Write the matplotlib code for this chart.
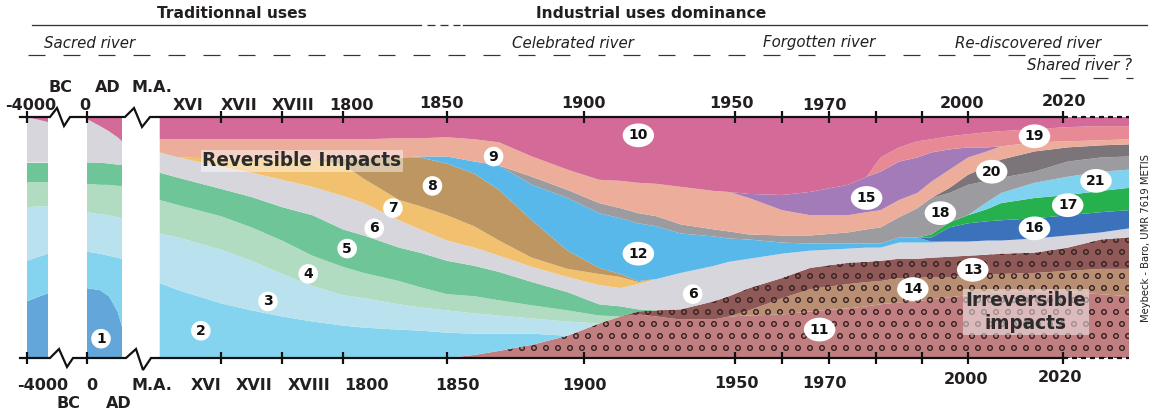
import matplotlib.pyplot as plt
import numpy as np

plt.rcParams["font.family"] = ["DejaVu Sans"]
plt.rcParams["hatch.color"] = "#3a2424"
plt.rcParams["hatch.linewidth"] = 0.9
plt.rcParams["lines.scale_dashes"] = False

# broken / stretched time axis: year -> horizontal position in the figure
YEAR_ANCHORS = [-4000, -3000, 0, 800, 1500, 1600, 1700, 1800, 1850, 1900,
                1950, 1960, 1970, 1980, 1990, 2000, 2020, 2034]
POS_ANCHORS = [27, 48, 87, 122, 160, 221, 282, 343, 447, 584,
               735, 782, 829, 876, 922, 968, 1063, 1129]

TICK_YEARS = [-4000, 0, 1600, 1700, 1800, 1850, 1900, 1950, 1960, 1970,
              1980, 1990, 2000, 2020]

top_labels = ["-4000", "0", "XVI", "XVII", "XVIII", "1800", "1850", "1900",
              "1950", "1970", "2000", "2020"]
top_eras = ["BC", "AD", "M.A."]
bottom_labels = ["-4000", "0", "M.A.", "XVI", "XVII", "XVIII", "1800", "1850",
                 "1900", "1950", "1970", "2000", "2020"]
bottom_eras = ["BC", "AD"]
periods = ["Traditionnal uses", "Industrial uses dominance"]
river_status = ["Sacred river", "Celebrated river", "Forgotten river",
                "Re-discovered river", "Shared river ?"]

# relative thickness of each impact layer (column totals = 100 %)
# -4000 .. BC strip
early_years = [-4000, -3000]
early_1 = [56, 64]
early_2 = [40, 39]
early_3 = [53, 47]
early_4 = [25, 24]
early_5 = [19, 19]
early_6 = [45, 40]
early_10 = [0, 5]

# AD strip
ad_years = [0, 300, 500, 700, 800]
ad_1 = [69, 67, 61, 46, 31]
ad_2 = [36, 36, 40, 53, 67]
ad_3 = [39, 39, 40, 40, 40]
ad_4 = [28, 29, 30, 31, 32]
ad_5 = [21, 22, 21, 21, 21]
ad_6 = [43, 36, 32, 27, 23]
ad_10 = [2, 9, 14, 20, 24]

# XVI century -> 2030s
main_years = [1495, 1530, 1600, 1650, 1700, 1750, 1800, 1810, 1827, 1837,
              1850, 1860, 1869, 1881, 1894, 1905, 1912, 1918, 1924, 1932,
              1943, 1948, 1953, 1960, 1966, 1974, 1978, 1981, 1985, 1989,
              1992, 1996, 2000, 2004, 2007, 2014, 2021, 2028, 2034]
main_11 = [0, 0, 0, 0, 0, 0, 0, 0, 0, 0, 0, 3, 7, 13, 22, 34, 41, 43, 41, 38,
           38, 41, 42, 43, 46, 49, 51, 53, 55, 56, 58, 60, 62, 64, 65, 66, 65, 63, 61]
main_14 = [0] * 22 + [5, 16, 22, 24, 24, 23, 24, 23, 22, 20, 19, 18, 18, 18, 21, 25, 27]
main_13 = [0] * 17 + [3, 6, 10, 18, 20, 22, 20, 21, 21, 20, 20, 19, 19, 19, 20, 20,
                      20, 20, 20, 23, 29, 31]
main_2 = [74, 67, 54, 47, 41, 36, 32, 30, 28, 27, 25, 21, 17, 11] + [0] * 25
main_3 = [49, 52, 53, 49, 42, 35, 30, 29, 25, 23, 22, 20, 18, 15, 14] + [0] * 24
main_4 = [33, 32, 33, 33, 33, 30, 28, 25, 23, 20, 16, 17, 15, 13, 11, 8] + [0] * 23
main_5 = [27, 27, 27, 30, 33, 40, 37, 37, 33, 34, 33, 30, 28, 23, 18, 11, 10, 2] + [0] * 21
main_6 = [20, 20, 22, 24, 27, 28, 33, 32, 27, 23, 20, 18, 16, 15, 15, 19, 18, 25, 31, 36,
          35, 34, 29, 24, 17, 14, 14, 13, 16, 16, 15, 15, 14, 14, 13, 14, 12, 7, 9]
main_7 = [0, 0, 8, 14, 20, 27, 31, 24, 20, 23, 25, 21, 15, 9, 8, 11, 11, 2] + [0] * 21
main_8 = [0, 0, 0, 0, 0, 0, 6, 20, 42, 48, 51, 52, 50, 37, 18, 6, 3, 1] + [0] * 21
main_12 = [0] * 9 + [1, 7, 12, 24, 35, 52, 54, 55, 57, 52, 39, 29, 23, 19, 11, 7, 5, 4,
                     4, 5, 5, 1] + [0] * 8
main_16 = [0] * 30 + [4, 14, 18, 19, 20, 20, 20, 20, 18]
main_17 = [0] * 30 + [3, 5, 8, 12, 17, 20, 20, 21, 22]
main_21 = [0] * 33 + [7, 10, 15, 18, 19, 18]
main_18 = [0] * 13 + [8, 8, 10, 10, 10, 10, 9, 7, 7, 5, 7, 8, 11, 14, 16, 20, 29, 36,
                      29, 30, 21, 15, 11, 15, 14, 13]
main_20 = [0] * 31 + [5, 10, 14, 18, 20, 14, 12, 12]
main_9 = [13, 18, 19, 19, 20, 20, 19, 19, 19, 18, 19, 22, 23, 20, 20, 23, 27, 30, 32, 37,
          38, 39, 36, 25, 20, 17, 17, 17, 17, 15, 16, 18, 17, 15, 13, 9, 6, 5, 5]
main_15 = [0] * 22 + [4, 15, 23, 30, 35, 38, 38, 35, 29, 20, 10, 4, 0, 0, 0, 0, 0]
main_19 = [0] * 27 + [14, 14, 16, 13, 13, 13, 15, 15, 13, 14, 14, 13]
main_10 = [22, 22, 22, 22, 22, 22, 22, 22, 21, 21, 20, 22, 25, 39, 52, 62, 63, 65, 66, 69,
           73, 74, 76, 77, 74, 67, 59, 40, 30, 24, 22, 19, 17, 15, 14, 12, 10, 9, 9]

label_text = ["1", "2", "3", "4", "5", "6", "7", "8", "9", "10", "12", "6", "11",
              "13", "14", "15", "16", "17", "18", "19", "20", "21"]
label_year = [320, 1567, 1677, 1743, 1802, 1815, 1824, 1843, 1867, 1918, 1918, 1936,
              1968, 2001, 1988, 1978, 2014, 2021, 1994, 2014, 2005, 2027]
label_level = [8.0, 11.3, 23.5, 34.9, 45.4, 53.8, 62.2, 71.4, 83.6, 92.4, 43.3, 26.5,
               11.8, 36.6, 28.6, 66.4, 53.8, 63.4, 60.1, 92.0, 77.3, 73.5]

COLORS = {
    "1": "#63a7da", "2": "#84d3ef", "3": "#b9e1ee", "4": "#b1dcc1", "5": "#6dc598",
    "6": "#d7d6dd", "7": "#f2c16f", "8": "#bd9661", "9": "#ecae9b", "10": "#d36a98",
    "11": "#c17e80", "12": "#57b8e9", "13": "#8f5957", "14": "#b98f74", "15": "#a37bb8",
    "16": "#3c72bb", "17": "#27b14e", "18": "#9c9ca0", "19": "#e88a96", "20": "#7b7579",
    "21": "#80d3f0",
}
HATCHES = {"11": "o", "13": "o", "14": "o"}
INK = "#231f20"

W, H = 1153, 414
TOP, BOTTOM = 117, 358


def to_pos(year):
    return np.interp(year, YEAR_ANCHORS, POS_ANCHORS)


def to_year(pos):
    return np.interp(pos, POS_ANCHORS, YEAR_ANCHORS)


def draw_stack(ax, years, layers):
    values = np.array([v for _, v in layers], dtype=float)
    shares = values / values.sum(axis=0) * 100
    names = [n for n, _ in layers]
    polys = ax.stackplot(years, shares, colors=[COLORS[n] for n in names], linewidth=0)
    for poly, name in zip(polys, names):
        if name in HATCHES:
            poly.set_hatch(HATCHES[name])


fig = plt.figure(figsize=(W / 72, H / 72), dpi=72)
ax = fig.add_axes([27 / W, 1 - BOTTOM / H, (1129 - 27) / W, (BOTTOM - TOP) / H])
ax.set_xscale("function", functions=(to_pos, to_year))

draw_stack(ax, early_years, [("1", early_1), ("2", early_2), ("3", early_3), ("4", early_4),
                             ("5", early_5), ("6", early_6), ("10", early_10)])
draw_stack(ax, ad_years, [("1", ad_1), ("2", ad_2), ("3", ad_3), ("4", ad_4),
                          ("5", ad_5), ("6", ad_6), ("10", ad_10)])
draw_stack(ax, main_years, [
    ("11", main_11), ("14", main_14), ("13", main_13), ("2", main_2), ("3", main_3),
    ("4", main_4), ("5", main_5), ("6", main_6), ("7", main_7), ("8", main_8),
    ("12", main_12), ("16", main_16), ("17", main_17), ("21", main_21), ("18", main_18),
    ("20", main_20), ("9", main_9), ("15", main_15), ("19", main_19), ("10", main_10),
])

ax.set_xlim(-4000, 2034)
ax.set_ylim(0, 100)
ax.set_xticks(TICK_YEARS)
ax.xaxis.set_minor_locator(plt.NullLocator())
ax.set_yticks([])
ax.tick_params(axis="x", top=True, bottom=True, direction="inout", length=12,
               width=2.2, color="#111111", labelbottom=False, labeltop=False)
for s in ax.spines.values():
    s.set_visible(False)

for t, yr, lv in zip(label_text, label_year, label_level):
    style = "circle,pad=0.2" if len(t) == 1 else "ellipse,pad=0.1"
    ax.text(yr, lv, t, ha="center", va="center", fontsize=14, fontweight="bold",
            color="#111111", zorder=6,
            bbox=dict(boxstyle=style, fc="white", ec="none"))

# decorations drawn in figure pixels
deco = fig.add_axes([0, 0, 1, 1])
deco.set_xlim(0, W)
deco.set_ylim(H, 0)
deco.axis("off")

# axis lines with the two scale breaks, dashed future
axis_kw = dict(color="#111111", lw=2.2, solid_joinstyle="miter")
deco.plot([20, 50, 57, 64, 70, 125, 134, 142, 150, 1063],
          [117, 117, 108, 126, 117, 117, 108, 127, 117, 117], **axis_kw)
deco.plot([20, 50, 59, 67, 73, 126, 136, 143, 151, 1063],
          [358, 358, 349, 367, 358, 358, 349, 370, 358, 358], **axis_kw)
for yy in (117, 358):
    deco.plot([1063, 1129], [yy, yy], color="#111111", lw=2.2, linestyle=(0, (5, 4)))

# period header lines
deco.plot([32, 421], [25, 25], color="#333333", lw=1.3)
deco.plot([427, 460], [25, 25], color="#333333", lw=1.3, linestyle=(0, (8, 5)))
deco.plot([463, 1147], [25, 25], color="#333333", lw=1.3)
deco.text(232, 14, periods[0], ha="center", va="center", fontsize=15.5,
          fontweight="bold", color=INK)
deco.text(651, 14, periods[1], ha="center", va="center", fontsize=15.5,
          fontweight="bold", color=INK)

# river status row
deco.plot([28, 1133], [55, 55], color="#333333", lw=1.2, linestyle=(0, (17, 18)))
deco.plot([1060, 1133], [78, 78], color="#333333", lw=1.2, linestyle=(0, (15, 18)))
for txt, (x, y) in zip(river_status, [(90, 43), (573, 43), (819, 43), (1028, 43), (1080, 66)]):
    deco.text(x, y, txt, ha="center", va="center", fontsize=15, style="italic", color=INK)

# tick labels
top_pos = [(31, 105), (85, 105), (188, 105), (239, 105), (293, 105), (351, 105),
           (441, 104), (583, 103), (731, 104), (824, 105), (962, 104), (1064, 102)]
for txt, (x, y) in zip(top_labels, top_pos):
    deco.text(x, y, txt, ha="center", va="center", fontsize=16, fontweight="bold", color=INK)
for txt, x in zip(top_eras, [61, 108, 152]):
    deco.text(x, 87, txt, ha="center", va="center", fontsize=16, fontweight="bold", color=INK)

bottom_pos = [(43, 386), (92, 386), (152, 386), (206, 386), (254, 386), (309, 386),
              (366, 386), (457, 386), (584, 386), (736, 384), (824, 384), (966, 380),
              (1060, 378)]
for txt, (x, y) in zip(bottom_labels, bottom_pos):
    deco.text(x, y, txt, ha="center", va="center", fontsize=16, fontweight="bold", color=INK)
for txt, x in zip(bottom_eras, [69, 119]):
    deco.text(x, 404, txt, ha="center", va="center", fontsize=16, fontweight="bold", color=INK)

# impact group labels
deco.text(302, 161, "Reversible Impacts", ha="center", va="center", fontsize=18.5,
          fontweight="bold", color="#2b2b2b", zorder=5,
          bbox=dict(boxstyle="square,pad=0.1", fc="white", ec="none", alpha=0.45))
deco.text(1026, 312, "Irreversible\nimpacts", ha="center", va="center", fontsize=18.5,
          fontweight="bold", color="#2b2b2b", linespacing=1.3, zorder=5,
          bbox=dict(boxstyle="square,pad=0.12", fc="#f4eaea", ec="none", alpha=0.55))

deco.text(1146, 238, "Meybeck - Baro, UMR 7619 METIS", rotation=90, ha="center",
          va="center", fontsize=10, color=INK)

fig.savefig("out.png", dpi=72)
